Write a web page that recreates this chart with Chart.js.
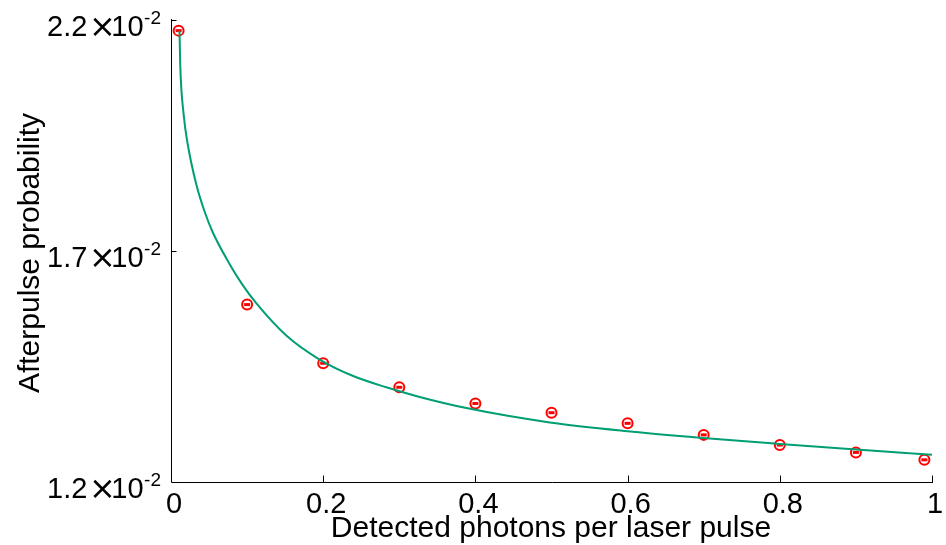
<!DOCTYPE html>
<html><head><meta charset="utf-8">
<script src="https://cdn.jsdelivr.net/npm/chart.js@4/dist/chart.umd.min.js"></script>
<style>html,body{margin:0;padding:0;background:#fff;}canvas{display:block;}</style>
</head><body>
<canvas id="c" width="946" height="545"></canvas>
<script>
// Measured points
const photonsPerPulse = [0.01, 0.1, 0.2, 0.3, 0.4, 0.5, 0.6, 0.7, 0.8, 0.9, 0.99];
const afterpulseProb = [0.02177, 0.01584, 0.01457, 0.01405, 0.01370, 0.01350, 0.01327, 0.01302, 0.01280, 0.01264, 0.01248];
// Fitted curve
const fitX = [0.0112, 0.0121, 0.0168, 0.0221, 0.0331, 0.0440, 0.0550, 0.0769, 0.0927, 0.1120, 0.1515, 0.1953, 0.2386, 0.2830, 0.3268, 0.3882, 0.4977, 0.6068, 0.6949, 0.8001, 0.8961, 1.0];
const fitY = [0.02176, 0.02105, 0.01993, 0.01930, 0.01845, 0.01786, 0.01740, 0.01672, 0.01630, 0.01587, 0.01517, 0.01465, 0.01430, 0.01405, 0.01384, 0.01360, 0.01329, 0.01309, 0.01296, 0.012825, 0.01271, 0.01259];
// Axes
const xTicks = [0, 0.2, 0.4, 0.6, 0.8, 1];
const xTickLabels = ['0', '0.2', '0.4', '0.6', '0.8', '1'];
const yTicks = [0.012, 0.017, 0.022];
const yTickMantissa = ['1.2', '1.7', '2.2'];
const yTickExponent = '-2';
const xTitle = 'Detected photons per laser pulse';
const yTitle = 'Afterpulse probability';

const FONT = '"Liberation Sans", Arial, sans-serif';

const axesPlugin = {
  id: 'gnuAxes',
  beforeDatasetsDraw(chart) {
    const ctx = chart.ctx, a = chart.chartArea, xs = chart.scales.x, ys = chart.scales.y;
    const L = Math.round(a.left) + 0.5, B = Math.round(a.bottom) + 0.5;
    ctx.save();
    ctx.strokeStyle = '#000';
    ctx.lineWidth = 1;
    ctx.beginPath();
    ctx.moveTo(L, a.top - 1);
    ctx.lineTo(L, B);
    ctx.lineTo(a.right + 1, B);
    xTicks.forEach(v => {
      if (v === xTicks[0]) return;
      const px = Math.round(xs.getPixelForValue(v)) + 0.5;
      ctx.moveTo(px, B);
      ctx.lineTo(px, B - 7);
    });
    yTicks.forEach(v => {
      if (v === yTicks[0]) return;
      const py = Math.round(ys.getPixelForValue(v)) + 0.5;
      ctx.moveTo(L, py);
      ctx.lineTo(L + 5, py);
    });
    ctx.stroke();
    ctx.restore();
  },
  afterDraw(chart) {
    const ctx = chart.ctx, a = chart.chartArea, xs = chart.scales.x, ys = chart.scales.y;
    ctx.save();
    ctx.fillStyle = '#000';
    // x tick labels
    ctx.font = '29px ' + FONT;
    ctx.textAlign = 'center';
    ctx.textBaseline = 'alphabetic';
    xTicks.forEach((v, i) => {
      ctx.fillText(xTickLabels[i], xs.getPixelForValue(v) + 3, 513);
    });
    // y tick labels  m x 10^-2
    yTicks.forEach((v, i) => {
      const py = ys.getPixelForValue(v);
      const base = py + 16;
      const R = 161;
      ctx.textBaseline = 'alphabetic';
      ctx.font = '19px ' + FONT;
      const wS = ctx.measureText(yTickExponent).width;
      ctx.textAlign = 'left';
      ctx.fillText(yTickExponent, R - wS, base - 12.5);
      ctx.font = '29px ' + FONT;
      ctx.textAlign = 'right';
      const x10R = R - wS - 0.5;
      ctx.fillText('10', x10R, base);
      const w10 = ctx.measureText('10').width;
      const xc = x10R - w10 - 9;
      ctx.font = '32px "DejaVu Sans", ' + FONT;
      ctx.textAlign = 'center';
      const m = ctx.measureText('\u00d7');
      const inkMid = (m.actualBoundingBoxAscent - m.actualBoundingBoxDescent) / 2;
      ctx.fillText('\u00d7', xc, base - 9 + inkMid);
      ctx.font = '29px ' + FONT;
      ctx.textAlign = 'right';
      ctx.fillText(yTickMantissa[i], xc - 15, base);
    });
    // axis titles
    ctx.font = '30px ' + FONT;
    ctx.textAlign = 'center';
    ctx.textBaseline = 'alphabetic';
    ctx.fillText(xTitle, 551, 537);
    ctx.save();
    ctx.translate(39, (a.top + a.bottom) / 2 + 2);
    ctx.rotate(-Math.PI / 2);
    ctx.fillText(yTitle, 0, 0);
    ctx.restore();
    ctx.restore();
  }
};

const curveData = fitX.map((x, i) => ({x: x, y: fitY[i]}));
const pointData = photonsPerPulse.map((x, i) => ({x: x, y: afterpulseProb[i]}));

new Chart(document.getElementById('c'), {
  type: 'scatter',
  data: {
    datasets: [
      {
        label: 'fit',
        data: curveData,
        showLine: true,
        borderColor: '#009e73',
        borderWidth: 2,
        pointRadius: 0,
        cubicInterpolationMode: 'monotone',
        fill: false,
        order: 0
      },
      {
        label: 'data',
        data: pointData,
        showLine: false,
        pointStyle: 'circle',
        pointRadius: 5,
        pointBorderWidth: 2,
        pointBorderColor: '#ff0000',
        pointBackgroundColor: 'rgba(255,255,255,0)',
        order: 1
      },
      {
        label: 'err',
        data: pointData,
        showLine: false,
        pointStyle: 'line',
        pointRadius: 3,
        pointBorderWidth: 3,
        pointBorderColor: '#ff0000',
        order: 2
      }
    ]
  },
  options: {
    responsive: false,
    devicePixelRatio: 1,
    animation: false,
    clip: false,
    layout: {padding: {left: 171, right: 14, top: 20, bottom: 63}},
    plugins: {legend: {display: false}, tooltip: {enabled: false}},
    events: [],
    scales: {
      x: {type: 'linear', min: 0, max: 1, display: false},
      y: {type: 'linear', min: 0.012, max: 0.022, display: false}
    }
  },
  plugins: [axesPlugin]
});
</script>
</body></html>
